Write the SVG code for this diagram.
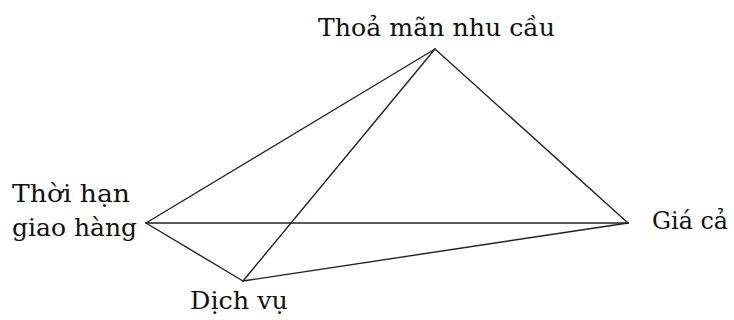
<svg xmlns="http://www.w3.org/2000/svg" width="734" height="320" viewBox="0 0 734 320">
<style>
.lbl{font-family:"DejaVu Serif",serif;font-size:25px;fill:#111;}
.edge{stroke:#222;stroke-width:1.4;fill:none;stroke-linecap:round;}
</style>
<rect width="734" height="320" fill="#fff"/>
<g id="connectors">
<line class="edge" x1="435" y1="49" x2="146" y2="223"/>
<line class="edge" x1="435" y1="49" x2="243" y2="281"/>
<line class="edge" x1="435" y1="49" x2="628" y2="223"/>
<line class="edge" x1="146" y1="223" x2="628" y2="223"/>
<line class="edge" x1="146" y1="223" x2="243" y2="281"/>
<line class="edge" x1="243" y1="281" x2="628" y2="223"/>
</g>
<g id="node-thoa-man">
<text class="lbl" x="318" y="36" textLength="237" lengthAdjust="spacingAndGlyphs">Thoả mãn nhu cầu</text>
</g>
<g id="node-thoi-han">
<text class="lbl" x="12" y="202" textLength="118" lengthAdjust="spacingAndGlyphs">Thời hạn</text>
<text class="lbl" x="12" y="236" textLength="125" lengthAdjust="spacingAndGlyphs">giao hàng</text>
</g>
<g id="node-gia-ca">
<text class="lbl" x="652" y="229" textLength="76" lengthAdjust="spacingAndGlyphs">Giá cả</text>
</g>
<g id="node-dich-vu">
<text class="lbl" x="190" y="309" textLength="98" lengthAdjust="spacingAndGlyphs">Dịch vụ</text>
</g>
</svg>
